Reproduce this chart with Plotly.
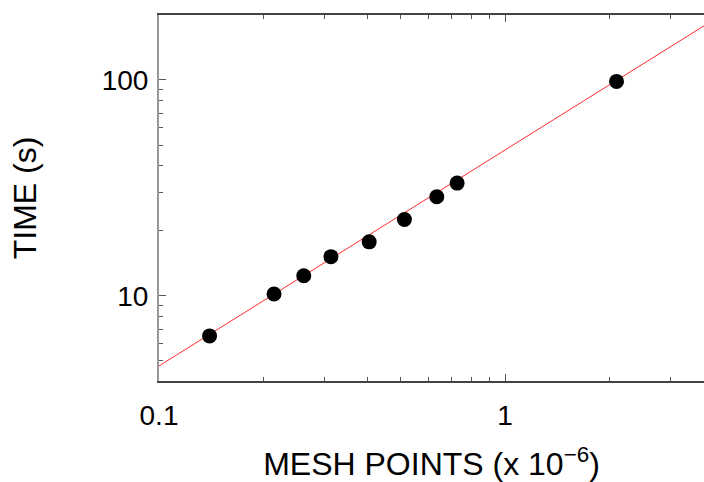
import plotly.graph_objects as go

# Data
mesh_points = [0.140, 0.215, 0.262, 0.314, 0.405, 0.512, 0.635, 0.727, 2.10]
time_s = [6.53, 10.2, 12.4, 15.2, 17.8, 22.6, 28.8, 33.3, 98.5]

# Fitted line (time ≈ k * mesh points)
fit_x = [0.1, 4.0]
fit_k = 47.4
fit_y = [fit_k * v for v in fit_x]

x_tickvals = [0.1, 1]
x_ticktext = ["0.1", "1"]
x_minor = [0.2, 0.3, 0.4, 0.5, 0.6, 0.7, 0.8, 0.9, 2, 3]
y_tickvals = [10, 100]
y_ticktext = ["10", "100"]
y_minor = [5, 6, 7, 8, 9, 20, 30, 40, 50, 60, 70, 80, 90, 200]

FONT = "Liberation Sans, Arial, Helvetica, sans-serif"

fig = go.Figure()
fig.add_trace(go.Scatter(x=fit_x, y=fit_y, mode="lines",
                         line=dict(color="#ff2a2a", width=1), hoverinfo="skip",
                         showlegend=False))
fig.add_trace(go.Scatter(x=mesh_points, y=time_s, mode="markers",
                         marker=dict(color="black", size=15, line=dict(width=0)),
                         showlegend=False))

fig.update_layout(
    width=704, height=482,
    margin=dict(l=159, r=0, t=15, b=101),
    paper_bgcolor="white", plot_bgcolor="white",
    font=dict(family=FONT, color="black"),
)
fig.update_xaxes(
    type="log", range=[-1, 0.575],
    tickvals=x_tickvals, ticktext=x_ticktext,
    tickfont=dict(size=28), ticklabelstandoff=9,
    ticks="inside", ticklen=7, tickcolor="#555", tickwidth=1,
    minor=dict(tickvals=x_minor, ticks="inside", ticklen=4, tickcolor="#555"),
    showline=True, linecolor="#444", linewidth=1.5, mirror="ticks",
    showgrid=False, zeroline=False,
    title=dict(text="MESH POINTS (x 10<sup>−6</sup>)", font=dict(size=32), standoff=26),
)
fig.update_yaxes(
    type="log", range=[0.606, 2.301],
    tickvals=y_tickvals, ticktext=y_ticktext,
    tickfont=dict(size=28), ticklabelstandoff=3,
    ticks="inside", ticklen=7, tickcolor="#555", tickwidth=1,
    minor=dict(tickvals=y_minor, ticks="inside", ticklen=4, tickcolor="#555"),
    showline=True, linecolor="#999", linewidth=2, mirror=False,
    showgrid=False, zeroline=False,
    title=dict(text="TIME (s)", font=dict(size=32), standoff=55),
)

# remove the page's default body margin so the figure fills the window exactly
fig.write_html(
    "out.html",
    config={"displayModeBar": False},
    post_script="document.body.style.margin='0';document.body.style.overflow='hidden';",
)
